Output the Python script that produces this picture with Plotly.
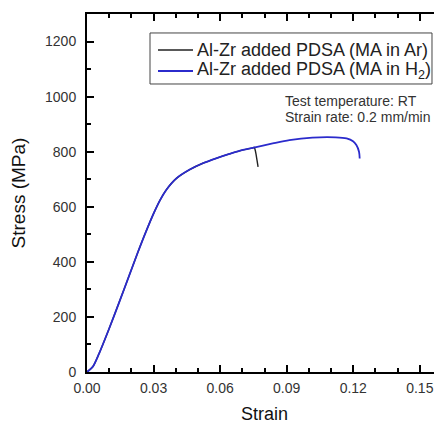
import plotly.graph_objects as go

# Data
strain_h2 = [0.0, 0.0026, 0.0055, 0.0100, 0.0145, 0.0190, 0.0228, 0.0265, 0.0300, 0.0330,
             0.0358, 0.0403, 0.0463, 0.0522, 0.0582, 0.0642, 0.0687, 0.0747, 0.0837,
             0.0912, 0.1016, 0.1121, 0.1170, 0.1199, 0.1214, 0.1226, 0.1229]
stress_h2 = [0, 19, 68, 158, 253, 350, 432, 508, 575, 625,
             662, 703, 735, 758, 776, 792, 803, 814, 830,
             842, 851, 852, 848, 838, 824, 800, 775]

strain_ar = [0.0, 0.0026, 0.0055, 0.0100, 0.0145, 0.0190, 0.0228, 0.0265, 0.0300, 0.0330,
             0.0358, 0.0403, 0.0463, 0.0522, 0.0582, 0.0642, 0.0687, 0.0747, 0.0754,
             0.0758, 0.0762, 0.0766, 0.0771]
stress_ar = [0, 19, 68, 158, 253, 350, 432, 508, 575, 625,
             662, 703, 735, 758, 776, 792, 803, 814, 816,
             806, 790, 770, 745]

x_ticks = [0.00, 0.03, 0.06, 0.09, 0.12, 0.15]
x_labels = ["0.00", "0.03", "0.06", "0.09", "0.12", "0.15"]
y_ticks = [0, 200, 400, 600, 800, 1000, 1200]

label_ar = "Al-Zr added PDSA (MA in Ar)"
label_h2 = "Al-Zr added PDSA (MA in H<sub>2</sub>)"
note_1 = "Test temperature: RT"
note_2 = "Strain rate: 0.2 mm/min"

FONT = "Liberation Sans, Arial, sans-serif"
COL_AR = "#222222"
COL_H2 = "#2b2bcc"

fig = go.Figure()
fig.add_trace(go.Scatter(x=strain_ar, y=stress_ar, mode="lines", name=label_ar, showlegend=False,
                         line=dict(color=COL_AR, width=1.4, shape="spline", smoothing=0.8)))
fig.add_trace(go.Scatter(x=strain_h2, y=stress_h2, mode="lines", name=label_h2, showlegend=False,
                         line=dict(color=COL_H2, width=1.8, shape="spline", smoothing=0.8)))

# The page body has an 8px margin, so the figure is 8px smaller than the window.
fig.update_layout(
    width=434, height=416,
    margin=dict(l=79, r=0, t=6, b=52, autoexpand=False),
    paper_bgcolor="white", plot_bgcolor="white",
    font=dict(family=FONT, color="#333333"),
    showlegend=False,
    xaxis=dict(range=[0, 0.16], tickvals=x_ticks, ticktext=x_labels, automargin=False,
               ticks="inside", ticklen=7, tickwidth=1.5, tickcolor="black",
               showline=True, linecolor="black", linewidth=2, mirror="ticks",
               showgrid=False, zeroline=False, ticklabelstandoff=2,
               tickfont=dict(size=14, color="#333333"),
               minor=dict(dtick=0.01, ticks="inside", ticklen=4, tickwidth=1.5,
                          tickcolor="black", showgrid=False),
               title=dict(text="Strain", font=dict(size=18, color="#111111"), standoff=13)),
    yaxis=dict(range=[0, 1300], tickvals=y_ticks, automargin=False,
               ticks="inside", ticklen=7, tickwidth=1.5, tickcolor="black",
               showline=True, linecolor="black", linewidth=2, mirror=False,
               showgrid=False, zeroline=False, ticklabelstandoff=6,
               tickfont=dict(size=14, color="#333333"),
               minor=dict(dtick=100, ticks="inside", ticklen=4, tickwidth=1.5,
                          tickcolor="black", showgrid=False),
               title=dict(text="Stress (MPa)", font=dict(size=19, color="#111111"), standoff=14)),
    yaxis2=dict(range=[0, 1300], overlaying="y", side="right", tickvals=y_ticks, automargin=False,
                ticks="inside", ticklen=6, tickwidth=1.5, tickcolor="black",
                showline=False, showticklabels=False, showgrid=False, zeroline=False,
                minor=dict(dtick=100, ticks="inside", ticklen=3, tickwidth=1.5,
                           tickcolor="black", showgrid=False)),
)

# invisible trace to activate the right-side tick axis
fig.add_trace(go.Scatter(x=[0], y=[0], yaxis="y2", mode="markers",
                         marker=dict(opacity=0), showlegend=False, hoverinfo="skip"))

# Legend box (drawn in plot-area paper coordinates)
fig.add_shape(type="rect", xref="paper", yref="paper", x0=0.1775, x1=0.9718, y0=0.8045, y1=0.947,
              line=dict(color="#444444", width=1), fillcolor="white", layer="above")
for yy, col, w, lab in [(0.8994, COL_AR, 1.4, label_ar), (0.8408, COL_H2, 1.8, label_h2)]:
    fig.add_shape(type="line", xref="paper", yref="paper", x0=0.200, x1=0.2986, y0=yy, y1=yy,
                  line=dict(color=col, width=w), layer="above")
    fig.add_annotation(x=0.3042, y=yy, xref="paper", yref="paper", text=lab, showarrow=False,
                       xanchor="left", yanchor="middle", font=dict(size=18, color="#222222"))

fig.add_annotation(x=0.0885, y=(372 - 101) / 0.2755, xref="x", yref="y", text=note_1,
                   showarrow=False, xanchor="left", yanchor="middle",
                   font=dict(size=14, color="#333333"))
fig.add_annotation(x=0.0885, y=(372 - 117) / 0.2755, xref="x", yref="y", text=note_2,
                   showarrow=False, xanchor="left", yanchor="middle",
                   font=dict(size=14, color="#333333"))

fig.write_html("out.html")
